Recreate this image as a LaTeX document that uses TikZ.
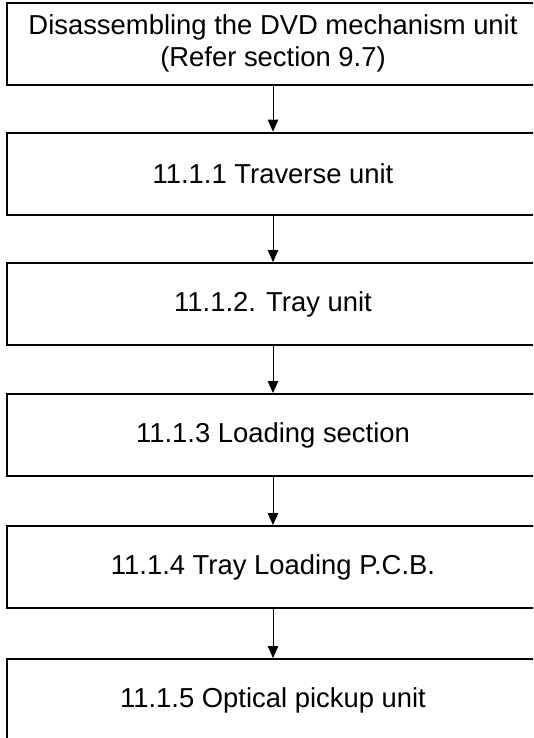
\documentclass[tikz,border=0pt]{standalone}
\usepackage{fontspec}
\setmainfont{Liberation Sans}
\usepackage{xcolor}
\usepackage{tikz}
\usetikzlibrary{arrows.meta, positioning}
\tikzset{
  stepbox/.style={rectangle, draw=black, line width=1.3pt, fill=white,
             font=\fontsize{19.5}{22.5}\selectfont, align=center,
             minimum width=13.3cm, minimum height=#1, inner sep=0pt},
  stepbox/.default=2.05cm,
  arr/.style={-{Triangle[length=0.3cm,width=0.26cm]}, line width=0.7pt, color=black},
}
\begin{document}
\begin{tikzpicture}
  % ── Frame ──────────────────────────────────────────────────────────────────
  \useasboundingbox (0,0) rectangle (13.325,-18.45);
  \clip (0,0) rectangle (13.325,-18.45);

  % ── Nodes ──────────────────────────────────────────────────────────────────
  \node[stepbox] at (6.825, -1.09)  (mech)     {Disassembling the DVD mechanism unit\\(Refer section 9.7)};
  \node[stepbox] at (6.825, -4.34)  (traverse) {11.1.1 Traverse unit};
  \node[stepbox] at (6.825, -7.6)   (tray)     {11.1.2. Tray unit};
  \node[stepbox] at (6.825, -10.875)(loading)  {11.1.3 Loading section};
  \node[stepbox] at (6.825, -14.175)(pcb)      {11.1.4 Tray Loading P.C.B.};
  \node[stepbox] at (6.825, -17.5)  (pickup)   {11.1.5 Optical pickup unit};

  % ── Arrows ─────────────────────────────────────────────────────────────────
  \draw[arr] (mech)     -- (traverse);
  \draw[arr] (traverse) -- (tray);
  \draw[arr] (tray)     -- (loading);
  \draw[arr] (loading)  -- (pcb);
  \draw[arr] (pcb)      -- (pickup);
\end{tikzpicture}
\end{document}
